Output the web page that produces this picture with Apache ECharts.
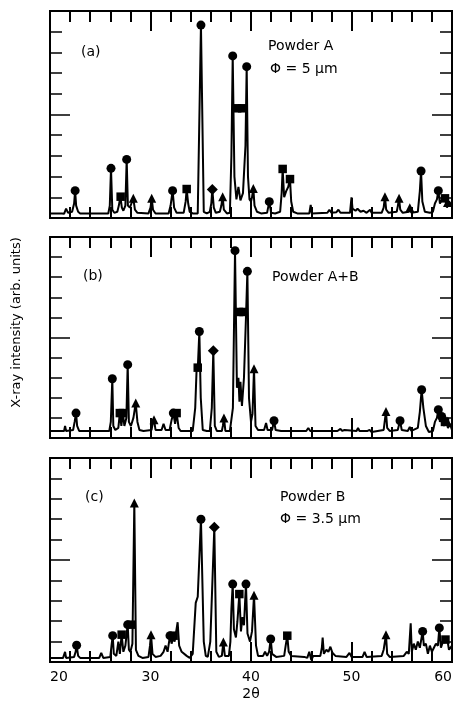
<!DOCTYPE html>
<html><head><meta charset="utf-8">
<script src="https://cdn.jsdelivr.net/npm/echarts@6/dist/echarts.min.js"></script>
<style>html,body{margin:0;padding:0;background:#fff}#c{width:457px;height:711px}</style>
</head><body><div id="c"></div>
<script>
// ---- data: [2theta, intensity] ----
const xTicks = [20, 30, 40, 50, 60];
const specA = [[20,0.22],[21.2,0.22],[21.4,0.2],[21.6,0.45],[21.8,0.25],[22.2,0.3],[22.4,0.7],[22.5,1.32],[22.6,0.6],[22.8,0.3],[23.0,0.22],
[25.8,0.22],[25.95,0.6],[26.07,2.4],[26.2,0.4],[26.4,0.25],[26.7,0.3],[26.85,0.6],[27.0,1.03],[27.15,0.5],[27.3,0.35],[27.5,0.6],[27.63,2.83],[27.75,0.6],[27.95,0.5],[28.1,0.7],[28.29,0.95],[28.45,0.4],[28.7,0.25],
[29.8,0.22],[30.0,0.5],[30.12,0.95],[30.25,0.4],[30.5,0.22],
[31.8,0.22],[32.0,0.6],[32.2,1.32],[32.35,0.5],[32.6,0.25],
[33.3,0.25],[33.5,0.8],[33.6,1.4],[33.75,0.7],[33.9,0.3],[34.2,0.22],
[34.7,0.22],[35.02,9.32],[35.3,0.3],[35.6,0.22],
[35.9,0.3],[36.05,0.7],[36.15,1.38],[36.3,0.5],[36.5,0.25],[36.9,0.3],[37.05,0.6],[37.18,1.03],[37.3,0.4],[37.6,0.22],
[37.9,0.25],[38.05,3.0],[38.18,7.83],[38.35,2.0],[38.55,0.9],[38.75,1.5],[38.95,0.85],[39.2,1.2],[39.45,3.5],[39.57,7.31],[39.7,2.0],[39.85,0.9],[40.0,0.8],[40.1,1.0],[40.23,1.43],[40.35,0.6],[40.6,0.3],[41.0,0.22],
[41.6,0.25],[41.82,0.79],[42.0,0.25],[42.4,0.22],
[42.9,0.3],[43.05,1.2],[43.15,2.37],[43.3,1.0],[43.5,1.3],[43.7,1.5],[43.88,1.88],[44.0,0.8],[44.2,0.3],[44.6,0.22],
[45.8,0.22],[45.94,0.63],[46.05,0.22],[47.6,0.25],[47.8,0.4],[48.0,0.25],[48.5,0.28],[48.7,0.4],[48.9,0.25],[49.85,0.25],[50.0,1.0],[50.1,0.45],[50.4,0.35],[50.6,0.45],[50.9,0.3],[51.2,0.35],[51.5,0.25],[51.85,0.4],[52.0,0.25],
[53.0,0.25],[53.2,0.5],[53.33,1.03],[53.45,0.4],[53.7,0.25],[54.5,0.3],[54.6,0.55],[54.73,0.95],[54.85,0.4],[55.1,0.25],[55.7,0.3],[55.8,0.5],[55.95,0.25],[56.6,0.3],[56.8,1.3],[56.92,2.27],[57.05,0.8],[57.3,0.3],[57.8,0.25],[58.1,0.3],[58.3,0.7],[58.5,0.9],[58.64,1.32],[58.8,0.7],[59.0,0.9],[59.3,0.95],[59.5,0.5],[59.7,0.8],[60.0,0.6]];
const circA = [[22.5,1.32],[26.07,2.4],[27.63,2.83],[32.2,1.32],[35.02,9.32],[38.18,7.83],[39.57,7.31],[41.82,0.79],[56.92,2.27],[58.64,1.32]];
const sqA = [[27.03,1.03],[33.6,1.4],[38.62,5.3],[39.12,5.3],[43.15,2.37],[43.88,1.88],[59.3,0.95]];
const triA = [[28.29,0.95],[30.12,0.95],[37.18,1.03],[40.23,1.43],[53.33,1.03],[54.73,0.95],[55.8,0.5],[59.55,0.75]];
const diaA = [[36.15,1.38]];

const specB = [[20,0.35],[21.4,0.35],[21.5,0.6],[21.6,0.35],[22.3,0.4],[22.45,0.8],[22.59,1.24],[22.7,0.6],[22.9,0.35],
[25.9,0.35],[26.05,0.8],[26.2,2.95],[26.3,0.6],[26.5,0.4],[26.8,0.5],[26.95,1.24],[27.1,0.6],[27.25,1.24],[27.4,0.6],[27.6,1.0],[27.73,3.65],[27.85,0.8],[28.05,0.6],[28.3,1.0],[28.53,1.74],[28.7,0.8],[28.9,0.4],[29.3,0.35],
[30.1,0.4],[30.25,0.8],[30.35,0.91],[30.5,0.4],[31.1,0.4],[31.3,0.7],[31.5,0.4],[31.9,0.4],[32.1,0.9],[32.27,1.24],[32.45,0.7],[32.6,1.24],[32.8,0.5],[33.0,0.35],
[34.2,0.35],[34.45,1.5],[34.6,3.6],[34.7,3.4],[34.86,5.3],[35.0,2.0],[35.2,0.4],[35.6,0.35],[35.9,0.35],[36.1,1.5],[36.25,4.34],[36.4,0.6],[36.6,0.35],[37.1,0.35],[37.2,0.6],[37.31,1.0],[37.45,0.35],[37.9,0.35],
[38.2,1.5],[38.41,9.32],[38.6,2.5],[38.75,3.0],[38.85,1.8],[38.95,2.8],[39.1,1.6],[39.3,3.0],[39.5,6.0],[39.64,8.29],[39.8,2.0],[40.0,0.8],[40.15,1.2],[40.3,3.45],[40.45,0.6],[40.7,0.4],[41.3,0.4],[41.5,0.75],[41.65,0.4],[42.1,0.4],[42.29,0.86],[42.45,0.4],[43,0.35],
[45.5,0.35],[45.7,0.5],[45.9,0.35],[48.6,0.35],[48.9,0.45],[49.1,0.35],[49.3,0.4],[50.5,0.35],[50.65,0.5],[50.8,0.35],[51.6,0.35],[51.8,0.4],[52,0.3],
[53.2,0.4],[53.3,0.8],[53.43,1.32],[53.55,0.5],[53.8,0.35],[54.6,0.4],[54.83,0.86],[55.0,0.4],[55.6,0.35],[55.8,0.55],[55.95,0.35],[56.6,0.5],[56.8,1.3],[56.98,2.4],[57.15,1.5],[57.4,0.6],[57.7,0.3],[58.1,0.35],[58.3,0.8],[58.5,1.0],[58.64,1.41],[58.8,0.8],[58.97,1.07],[59.2,0.6],[59.4,0.9],[59.6,0.5],[59.8,0.7],[60,0.4]];
const circB = [[22.59,1.24],[26.2,2.95],[27.73,3.65],[32.27,1.24],[34.86,5.3],[38.41,9.32],[39.64,8.29],[42.29,0.86],[54.83,0.86],[56.98,2.4],[58.64,1.41],[58.97,1.07]];
const sqB = [[26.95,1.24],[27.25,1.24],[32.6,1.24],[34.7,3.5],[38.8,6.27],[39.25,6.27],[59.3,0.8]];
const triB = [[28.53,1.74],[30.35,0.91],[37.31,1.0],[40.3,3.45],[53.43,1.32],[59.5,0.85]];
const diaB = [[36.25,4.34]];

const specC = [[20,0.2],[21.3,0.2],[21.5,0.5],[21.6,0.2],[22.4,0.25],[22.55,0.5],[22.65,0.82],[22.8,0.3],[23.0,0.2],[24.9,0.2],[25.1,0.45],[25.3,0.2],
[26.0,0.25],[26.12,0.8],[26.24,1.29],[26.35,0.4],[26.6,0.3],[26.8,1.0],[26.95,0.4],[27.13,1.34],[27.3,0.5],[27.5,0.8],[27.73,1.83],[27.85,0.6],[28.0,0.5],[28.2,0.9],[28.39,7.79],[28.55,0.6],[28.8,0.3],[29.2,0.2],
[29.8,0.25],[29.95,0.8],[30.05,1.34],[30.2,0.4],[30.5,0.25],[31.0,0.3],[31.3,0.5],[31.5,0.8],[31.7,0.5],[31.94,1.29],[32.1,0.9],[32.25,1.2],[32.4,1.0],[32.7,1.95],[32.85,0.8],[33.1,0.5],[33.6,0.3],[33.9,0.2],
[34.2,0.4],[34.5,2.9],[34.7,3.2],[35.02,7.0],[35.3,1.0],[35.5,0.3],[35.7,0.25],[35.95,1.0],[36.35,6.6],[36.55,0.5],[36.8,0.25],[37.1,0.3],[37.25,0.98],[37.4,0.3],[37.8,0.3],[37.95,1.0],[38.05,2.6],[38.18,3.82],[38.3,1.6],[38.5,1.2],[38.65,2.0],[38.84,3.33],[39.0,1.5],[39.15,2.2],[39.3,1.8],[39.5,3.82],[39.65,1.4],[39.9,1.0],[40.1,1.5],[40.3,3.27],[40.5,0.8],[40.7,0.3],[41.2,0.3],[41.4,0.5],[41.6,0.3],[41.8,0.5],[41.96,1.13],[42.1,0.4],[42.5,0.25],[43.3,0.3],[43.45,0.8],[43.61,1.29],[43.75,0.5],[44.0,0.3],
[45.3,0.25],[45.6,0.2],[45.8,0.5],[46.0,0.1],[46.2,0.3],[46.9,0.3],[47.05,0.7],[47.13,1.2],[47.25,0.4],[47.5,0.6],[47.7,0.5],[47.9,0.75],[48.1,0.45],[48.4,0.3],[49.5,0.25],[49.8,0.45],[50.0,0.25],[51.1,0.25],[51.3,0.5],[51.5,0.25],
[53.0,0.3],[53.2,0.6],[53.43,1.34],[53.55,0.4],[53.8,0.25],[55.2,0.3],[55.5,0.5],[55.7,0.4],[55.89,1.9],[56.0,0.5],[56.2,0.9],[56.4,0.6],[56.6,1.0],[56.8,0.7],[57.08,1.5],[57.2,0.8],[57.4,0.9],[57.6,0.4],[57.8,0.8],[58.0,0.5],[58.2,0.7],[58.4,0.9],[58.6,0.8],[58.74,1.67],[58.9,0.7],[59.1,1.0],[59.3,0.95],[59.5,1.2],[59.7,0.6],[60.0,0.8]];
const circC = [[22.65,0.82],[26.24,1.29],[27.73,1.83],[31.94,1.29],[35.02,7.0],[38.18,3.82],[39.5,3.82],[41.96,1.13],[57.08,1.5],[58.74,1.67]];
const sqC = [[27.13,1.34],[28.05,1.83],[32.3,1.29],[38.84,3.33],[43.61,1.29],[59.35,1.1]];
const triC = [[28.39,7.79],[30.05,1.34],[37.25,0.98],[40.3,3.27],[53.43,1.34]];
const diaC = [[36.35,6.6]];

const panelLabels = ['(a)', '(b)', '(c)'];
const sampleNames = ['Powder A', 'Powder A+B', 'Powder B'];
const sizeLabels = ['Φ = 5 µm', '', 'Φ = 3.5 µm'];
const yTitle = 'X-ray intensity (arb. units)';
const xTitle = '2θ';

const panels = [
  {spec: specA, circ: circA, sq: sqA, tri: triA, dia: diaA, grid: {left:50, top:11, width:402, height:207},
   lab: [81, 45], name: [268, 39], size: [270, 62]},
  {spec: specB, circ: circB, sq: sqB, tri: triB, dia: diaB, grid: {left:50, top:237, width:402, height:201},
   lab: [83, 269], name: [272, 270], size: [272, 292]},
  {spec: specC, circ: circC, sq: sqC, tri: triC, dia: diaC, grid: {left:50, top:458, width:402, height:204},
   lab: [85, 490], name: [280, 490], size: [280, 512]}
];

const FONT = 'DejaVu Sans';
const tsY = () => ({color:'#000', width:1.5});
const tsX = () => ({color:'#000', width:2});
const grid = [], xAxis = [], yAxis = [], series = [], title = [];
const tStyle = () => ({color:'#000', fontSize:14, fontWeight:'normal', fontFamily:FONT});
panels.forEach((p, i) => {
  grid.push(Object.assign({show:true, borderColor:'#000', borderWidth:2, backgroundColor:'transparent', z:0}, p.grid));
  const last = i === panels.length - 1;
  ['bottom','top'].forEach(pos => {
    const ax = {type:'value', gridIndex:i, position:pos, min:xTicks[0], max:xTicks[xTicks.length-1], interval:10, z:10,
      axisLine:{show:true, onZero:false, lineStyle:{color:'#000', width:2}},
      axisTick:{show:true, inside:true, length:20, lineStyle:tsX()},
      minorTick:{show:true, splitNumber:5, length:11, lineStyle:tsX()},
      splitLine:{show:false},
      axisLabel:{show:false}};
    if (last && pos === 'bottom') {
      ax.axisLabel = {show:true, color:'#000', fontSize:14, fontFamily:FONT, margin:8, alignMinLabel:'left', alignMaxLabel:'right'};
      ax.name = xTitle; ax.nameLocation = 'middle'; ax.nameGap = 25;
      ax.nameTextStyle = {color:'#000', fontSize:14, fontFamily:FONT};
    }
    xAxis.push(ax);
  });
  ['left','right'].forEach(pos => {
    const ay = {type:'value', gridIndex:i, position:pos, min:0, max:10, interval:5, z:10,
      axisLine:{show:true, onZero:false, lineStyle:{color:'#000', width:2}},
      axisTick:{show:true, inside:true, length:20, lineStyle:tsY()},
      minorTick:{show:true, splitNumber:5, length:12, lineStyle:tsY()},
      splitLine:{show:false}, axisLabel:{show:false}};
    if (i === 1 && pos === 'left') {
      ay.name = yTitle; ay.nameLocation = 'middle'; ay.nameGap = 27; ay.nameRotate = 90;
      ay.nameTextStyle = {color:'#000', fontSize:13, fontFamily:FONT, padding:[0,0,0,30]};
    }
    yAxis.push(ay);
  });
  series.push({type:'line', xAxisIndex:2*i, yAxisIndex:2*i, data:p.spec, showSymbol:false, symbol:'none',
    lineStyle:{color:'#000', width:2}, z:2});
  const mk = (data, symbol, size) => series.push({type:'scatter', xAxisIndex:2*i, yAxisIndex:2*i, data, symbol, symbolSize:size,
    itemStyle:{color:'#000', opacity:1}, z:3, silent:true});
  mk(p.circ, 'circle', 9);
  mk(p.sq, 'rect', 8.5);
  mk(p.tri, 'triangle', 9);
  mk(p.dia, 'diamond', 11);
  title.push({text:panelLabels[i], left:p.lab[0], top:p.lab[1], padding:0, textStyle:tStyle()});
  title.push({text:sampleNames[i], left:p.name[0], top:p.name[1], padding:0, textStyle:tStyle()});
  if (sizeLabels[i]) title.push({text:sizeLabels[i], left:p.size[0], top:p.size[1], padding:0, textStyle:tStyle()});
});

const chart = echarts.init(document.getElementById('c'));
chart.setOption({animation:false, title, grid, xAxis, yAxis, series});
</script></body></html>
